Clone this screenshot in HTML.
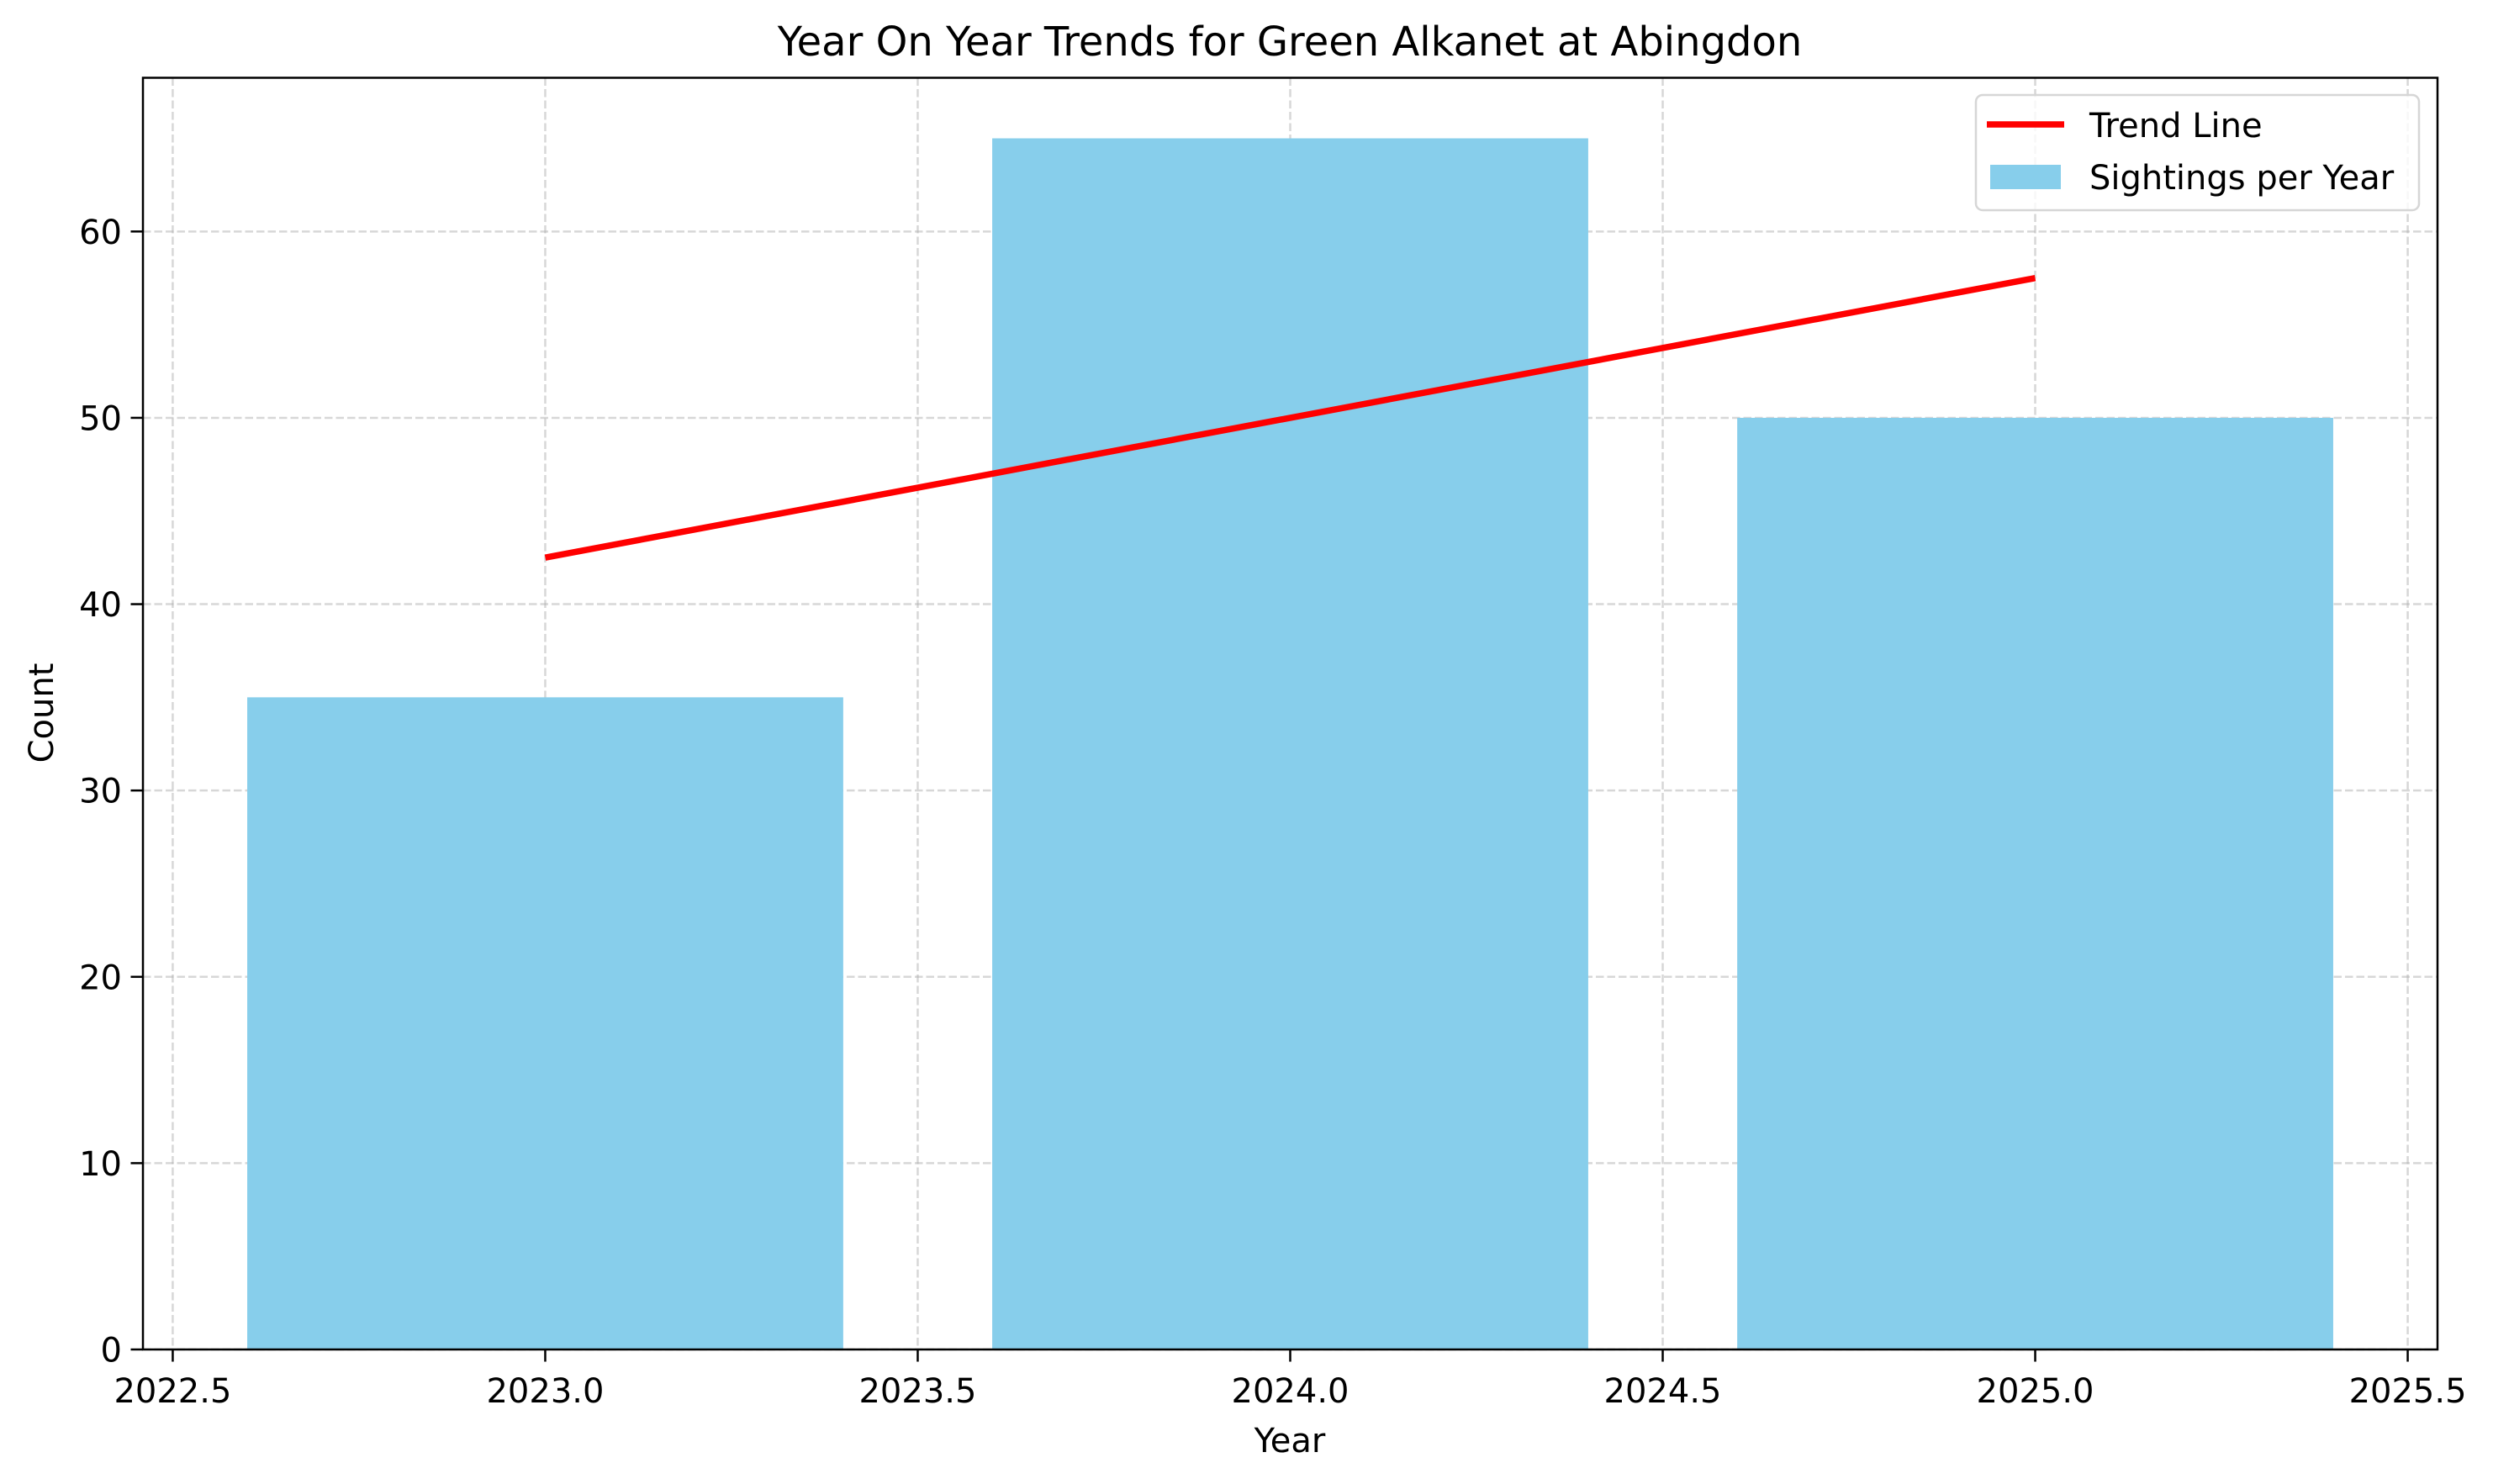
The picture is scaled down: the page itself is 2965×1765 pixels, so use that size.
<!DOCTYPE html>
<html><head><meta charset="utf-8"><style>
html,body{margin:0;padding:0;background:#fff;}
svg{display:block;font-family:"DejaVu Sans","Liberation Sans",sans-serif;}
</style></head><body>
<svg id="chart" width="2965" height="1765" viewBox="0 0 2965 1765" xmlns="http://www.w3.org/2000/svg">
<rect width="2965" height="1765" fill="#fff"/>
<g id="grid"></g>
<g id="bars"></g>
<g id="trend"></g>
<rect x="170" y="92.5" width="2729" height="1512.5" fill="none" stroke="#000" stroke-width="2.5"/>
<g id="ticks"></g>
<text x="1534" y="66" font-size="48" text-anchor="middle">Year On Year Trends for Green Alkanet at Abingdon</text>
<text x="1534" y="1727" font-size="40" text-anchor="middle">Year</text>
<text x="0" y="0" font-size="40" text-anchor="middle" transform="translate(63,848) rotate(-90)">Count</text>
<g>
<rect x="2350" y="113" width="527" height="137" rx="8" fill="#fff" fill-opacity="0.8" stroke="#d6d6d6" stroke-width="2.5"/>
<line x1="2363" y1="148" x2="2455" y2="148" stroke="#ff0000" stroke-width="7.5"/>
<text x="2485" y="163" font-size="40">Trend Line</text>
<rect x="2367" y="196" width="84" height="29" fill="#87ceeb"/>
<text x="2485" y="225" font-size="40">Sightings per Year</text>
</g>
</svg>
<script>
const years = [2023, 2024, 2025];
const counts = [35, 65, 50];
const trendYears = [2023, 2025];
const trendValues = [42.5, 57.5];
const xTicks = [2022.5, 2023.0, 2023.5, 2024.0, 2024.5, 2025.0, 2025.5];
const yTicks = [0, 10, 20, 30, 40, 50, 60];
const barWidth = 0.8;

const NS = "http://www.w3.org/2000/svg";
const L = 170, R = 2899, T = 92.5, B = 1605;
const xMin = 2022.46, xMax = 2025.54, yMin = 0, yMax = 68.25;
const xs = v => L + (v - xMin) / (xMax - xMin) * (R - L);
const ys = v => B - (v - yMin) / (yMax - yMin) * (B - T);
function mk(tag, attrs, parent) {
  const e = document.createElementNS(NS, tag);
  for (const k in attrs) e.setAttribute(k, attrs[k]);
  parent.appendChild(e);
  return e;
}
const grid = document.getElementById('grid');
const bars = document.getElementById('bars');
const trend = document.getElementById('trend');
const ticks = document.getElementById('ticks');

xTicks.forEach(t => {
  const x = xs(t);
  const g = mk('line', {x1: x, y1: T, x2: x, y2: B, stroke: '#b0b0b0', 'stroke-opacity': 0.5, 'stroke-width': 2.5, 'stroke-dasharray': '9.5,4'}, grid);
  
  
  const tk = mk('line', {x1: x, y1: B, x2: x, y2: B + 14.5, stroke: '#000', 'stroke-width': 2.5}, ticks);
  
  
  const lb = mk('text', {x: x, y: 1668, 'font-size': 40, 'text-anchor': 'middle'}, ticks);
  lb.textContent = t.toFixed(1);
  
  
});
yTicks.forEach(t => {
  const y = ys(t);
  const g = mk('line', {x1: L, y1: y, x2: R, y2: y, stroke: '#b0b0b0', 'stroke-opacity': 0.5, 'stroke-width': 2.5, 'stroke-dasharray': '9.5,4'}, grid);
  
  
  const tk = mk('line', {x1: L - 14.5, y1: y, x2: L, y2: y, stroke: '#000', 'stroke-width': 2.5}, ticks);
  
  
  const lb = mk('text', {x: L - 25, y: y + 14.5, 'font-size': 40, 'text-anchor': 'end'}, ticks);
  lb.textContent = String(t);
  
  
});
years.forEach((yr, i) => {
  const x0 = xs(yr - barWidth / 2), x1 = xs(yr + barWidth / 2);
  const b = mk('rect', {x: x0, y: ys(counts[i]), width: x1 - x0, height: ys(0) - ys(counts[i]), fill: '#87ceeb'}, bars);
  
  
});
const pts = trendYears.map((yr, i) => xs(yr) + ',' + ys(trendValues[i])).join(' ');
const pl = mk('polyline', {points: pts, fill: 'none', stroke: '#ff0000', 'stroke-width': 7.5}, trend);


</script>
</body></html>
